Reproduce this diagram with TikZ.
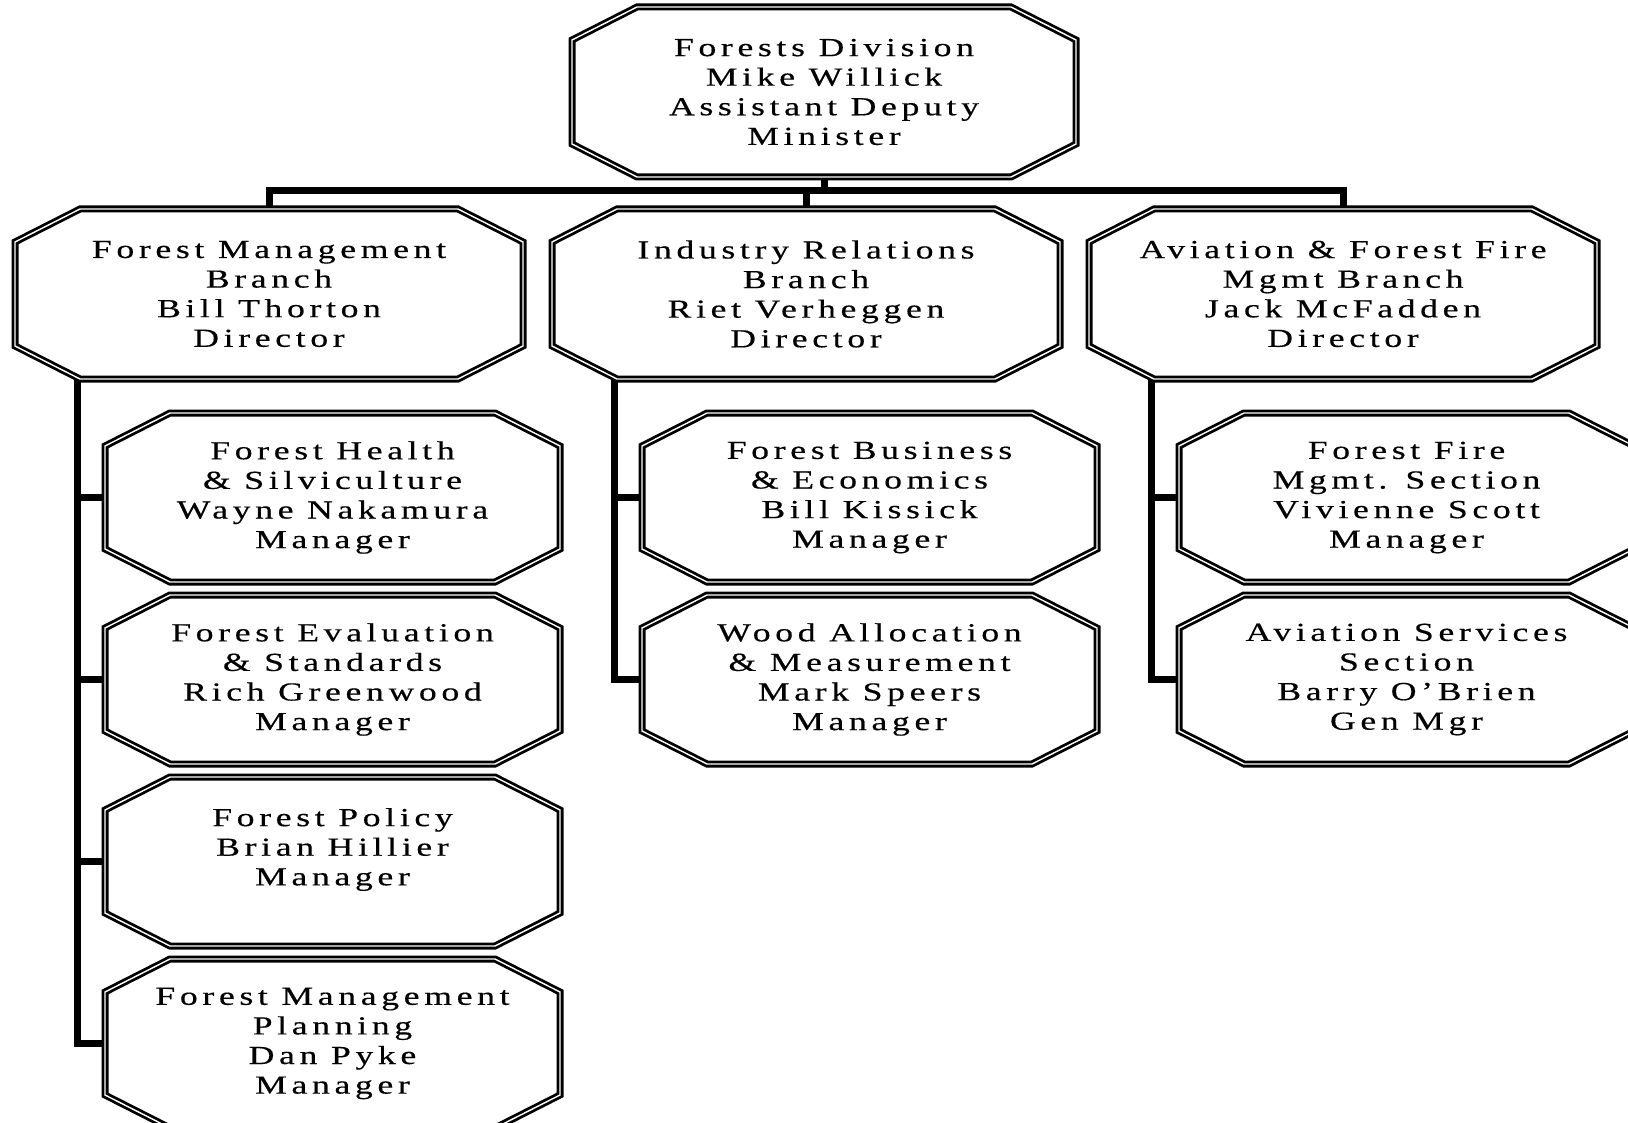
\documentclass[tikz,border=0pt]{standalone}
\usepackage{fontspec}
\setmainfont{Liberation Serif}[FakeStretch=1.37,LetterSpace=18,FakeBold=0.4]
\usetikzlibrary{positioning}

\begin{document}
\begin{tikzpicture}[
    x=0.5pt, y=-0.5pt,
    octnode/.style={rectangle, inner sep=0pt, outer sep=0pt, align=center, font=\fontsize{13pt}{14.8pt}\selectfont},
    divisionbox/.style={octnode, minimum width=252pt, minimum height=85pt},
    branchbox/.style={octnode, minimum width=254pt, minimum height=85pt},
    sectionbox/.style={octnode, minimum width=227.5pt, minimum height=84.5pt},
    octline/.style={draw, line width=1.4pt, double=white, double distance=0.7pt, line join=miter},
    link/.style={draw, line width=3.5pt, line join=miter}
]
\useasboundingbox (0,0) rectangle (1628,1123);
% Nodes
\node[divisionbox] (fd) at (824,92) {Forests Division\\Mike Willick\\Assistant Deputy\\Minister};
\node[branchbox, below=16pt of fd, xshift=-9pt] (irb) {Industry Relations\\Branch\\Riet Verheggen\\Director};
\node[branchbox, left=14.5pt of irb] (fmb) {Forest Management\\Branch\\Bill Thorton\\Director};
\node[branchbox, right=14.5pt of irb] (aff) {Aviation \& Forest Fire\\Mgmt Branch\\Jack McFadden\\Director};
% Forest Management sections
\node[sectionbox, below=17pt of fmb.south west, anchor=north west, xshift=45pt] (fhs) {Forest Health\\\& Silviculture\\Wayne Nakamura\\Manager};
\node[sectionbox, below=6.5pt of fhs] (fes) {Forest Evaluation\\\& Standards\\Rich Greenwood\\Manager};
\node[sectionbox, below=6.5pt of fes] (fp) {Forest Policy\\Brian Hillier\\Manager\\~};
\node[sectionbox, below=6.5pt of fp] (fmp) {Forest Management\\Planning\\Dan Pyke\\Manager};
% Industry Relations sections
\node[sectionbox, below=17pt of irb.south west, anchor=north west, xshift=45pt] (fbe) {Forest Business\\\& Economics\\Bill Kissick\\Manager};
\node[sectionbox, below=6.5pt of fbe] (wam) {Wood Allocation\\\& Measurement\\Mark Speers\\Manager};
% Aviation & Forest Fire sections
\node[sectionbox, below=17pt of aff.south west, anchor=north west, xshift=45pt] (ffm) {Forest Fire\\Mgmt. Section\\Vivienne Scott\\Manager};
\node[sectionbox, below=6.5pt of ffm] (avs) {Aviation Services\\Section\\Barry O'Brien\\Gen Mgr};
% Connectors
\coordinate (bus) at ([yshift=-7pt]fd.south);
\draw[link] (fd.south) -- (bus);
\draw[link] (fmb.north) |- (bus) -| (aff.north);
\draw[link] (irb.north) -- (irb.north |- bus);
\coordinate (fmbspine) at ([xshift=31pt]fmb.south west);
\coordinate (irbspine) at ([xshift=31pt]irb.south west);
\coordinate (affspine) at ([xshift=31pt]aff.south west);
\draw[link] (fmbspine) |- (fmp.west);
\draw[link] (irbspine) |- (wam.west);
\draw[link] (affspine) |- (avs.west);
\foreach \n in {fhs,fes,fp}
  \draw[link] (\n.west) -- (\n.west -| fmbspine);
\draw[link] (fbe.west) -- (fbe.west -| irbspine);
\draw[link] (ffm.west) -- (ffm.west -| affspine);
% Octagon borders
\foreach \n in {fd,fmb,irb,aff,fhs,fes,fp,fmp,fbe,wam,ffm,avs}
  \draw[octline] ([xshift=32.5pt]\n.north west) -- ([xshift=-32.5pt]\n.north east) -- ([yshift=-16.5pt]\n.north east) -- ([yshift=16.5pt]\n.south east) -- ([xshift=-32.5pt]\n.south east) -- ([xshift=32.5pt]\n.south west) -- ([yshift=16.5pt]\n.south west) -- ([yshift=-16.5pt]\n.north west) -- cycle;
\end{tikzpicture}
\end{document}
